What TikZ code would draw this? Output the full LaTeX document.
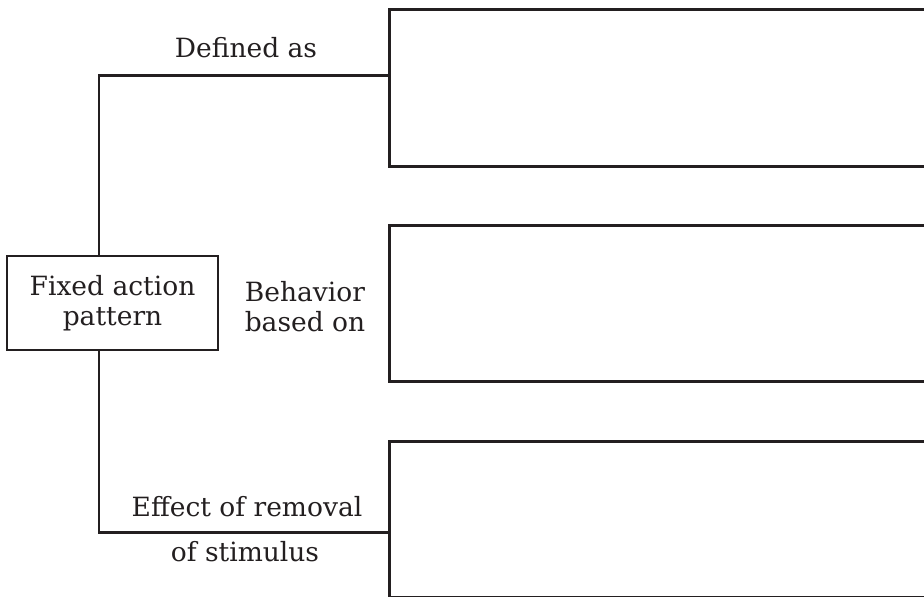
\documentclass[tikz,border=0pt]{standalone}
\usepackage{fontspec}
\setmainfont{DejaVu Serif}
\usepackage{xcolor}
\usepackage{tikz}
\usetikzlibrary{positioning, calc}
\definecolor{ink}{HTML}{231F20}
\tikzset{every picture/.append style={thick}}
\tikzset{
  conceptbox/.style={draw=ink, line width=2.6pt, text=ink, align=center, inner sep=0pt},
  answerbox/.style={draw=ink, line width=2.6pt, anchor=north west, minimum width=600pt, inner sep=0pt},
  linklabel/.style={text=ink, align=center, inner sep=0pt},
  link/.style={draw=ink, line width=2.6pt}
}

\begin{document}
\begin{tikzpicture}[x=1pt, y=1pt, font=\fontsize{26.5}{30}\selectfont]
            \useasboundingbox (0,0) rectangle (924,597);
            \clip (0,0) rectangle (924,597);

            % Central concept
            \node[conceptbox, minimum width=211pt, minimum height=94pt] (fap) at (112.5,294) {Fixed action\\pattern};

            % Empty answer boxes running off the right edge
            \node[answerbox, minimum height=157pt] (defbox) at (388,589) {};
            \node[answerbox, minimum height=156pt] (behbox) at (388,373) {};
            \node[answerbox, minimum height=156pt] (effbox) at (388,157) {};

            % Where the branches leave the concept and meet the boxes
            \coordinate (fapup) at ([xshift=-13.5pt]fap.north);
            \coordinate (fapdown) at ([xshift=-13.5pt]fap.south);
            \coordinate (defin) at ([yshift=12.5pt]defbox.west);
            \coordinate (effin) at ([yshift=-13pt]effbox.west);

            % Branches
            \draw[link, line cap=rect] (fapup) |- (defin);
            \draw[link, line cap=rect] (fapdown) |- (effin);

            % Branch labels
            \node[linklabel] (deflabel) at (246,549) {Defined as};
            \node[linklabel] (behlabel) at (305,290) {Behavior\\based on};
            \node[linklabel] (efflabel) at (247,90) {Effect of removal};
            \node[linklabel] (efflabel2) at (245,45) {of stimulus};
        \end{tikzpicture}
\end{document}
